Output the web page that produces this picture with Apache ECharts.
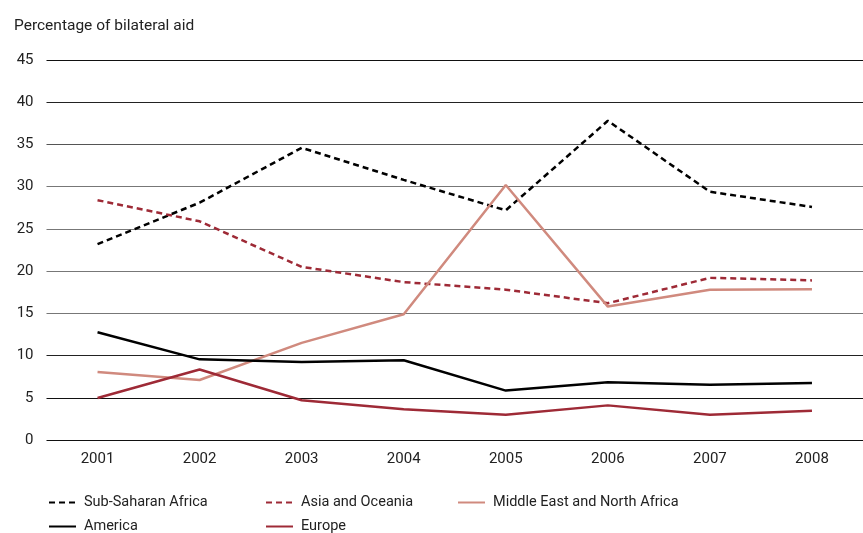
<!DOCTYPE html>
<html>
<head>
<meta charset="utf-8">
<script src="https://cdn.jsdelivr.net/npm/echarts@6/dist/echarts.min.js"></script>
<style>html,body{margin:0;padding:0;background:#fff}#c{width:863px;height:533px}</style>
</head>
<body>
<div id="c"></div>
<script>
const years = ['2001','2002','2003','2004','2005','2006','2007','2008'];
const subSaharan = [23.2, 28.1, 34.6, 30.8, 27.2, 37.8, 29.4, 27.6];
const asiaOceania = [28.4, 25.9, 20.5, 18.7, 17.8, 16.2, 19.2, 18.9];
const menaAfrica = [8.05, 7.1, 11.5, 14.9, 30.2, 15.8, 17.8, 17.85];
const america = [12.75, 9.55, 9.25, 9.45, 5.85, 6.85, 6.55, 6.75];
const europe = [4.97, 8.35, 4.7, 3.65, 3.0, 4.1, 3.0, 3.45];
const yTicks = [0, 5, 10, 15, 20, 25, 30, 35, 40, 45];

const FONT = 'Roboto, "Liberation Sans", sans-serif';
const chart = echarts.init(document.getElementById('c'), null, {renderer: 'canvas'});
const DARK_RED = '#9e2a36';
const SALMON = '#d08a7e';

function ser(name, data, color, dashed) {
  return {
    name, type: 'line', data, symbol: 'none', smooth: false,
    lineStyle: {color, width: 2.5, type: dashed ? [6, 4] : 'solid'},
    itemStyle: {color},
    emphasis: {disabled: true}
  };
}
function leg(name, left, top) {
  return {
    data: [name], left, top, itemWidth: 27, itemHeight: 10,
    itemStyle: {opacity: 0},
    textStyle: {fontFamily: FONT, fontSize: 14.5, color: '#222', padding: [0, 0, 0, 3]},
    selectedMode: false
  };
}
chart.setOption({
  animation: false,
  title: {text: 'Percentage of bilateral aid', left: 9, top: 13,
    textStyle: {fontFamily: FONT, fontSize: 15.5, fontWeight: 'normal', color: '#222'}},
  grid: {left: 46.5, right: -6.5, top: 60, bottom: 93},
  xAxis: {
    type: 'category', data: years, boundaryGap: true,
    axisLine: {show: false}, axisTick: {show: false},
    axisLabel: {fontFamily: FONT, fontSize: 15, color: '#222', margin: 12}
  },
  yAxis: {
    type: 'value', min: 0, max: 45, interval: 5,
    axisLine: {show: false}, axisTick: {show: false},
    axisLabel: {fontFamily: FONT, fontSize: 15, color: '#222', margin: 13,
      formatter: v => yTicks.includes(v) ? String(v) : ''},
    splitLine: {lineStyle: {width: 1.2,
      color: ['#111', '#111', '#222', '#777', '#777', '#777', '#777', '#555', '#222', '#111']}}
  },
  legend: [
    leg('Sub-Saharan Africa', 43, 490),
    leg('America', 43, 514),
    leg('Asia and Oceania', 260, 490),
    leg('Europe', 260, 514),
    leg('Middle East and North Africa', 452, 490)
  ],
  series: [
    ser('Sub-Saharan Africa', subSaharan, '#000', true),
    ser('Asia and Oceania', asiaOceania, DARK_RED, true),
    ser('Middle East and North Africa', menaAfrica, SALMON, false),
    ser('America', america, '#000', false),
    ser('Europe', europe, DARK_RED, false)
  ]
});
</script>
</body>
</html>
